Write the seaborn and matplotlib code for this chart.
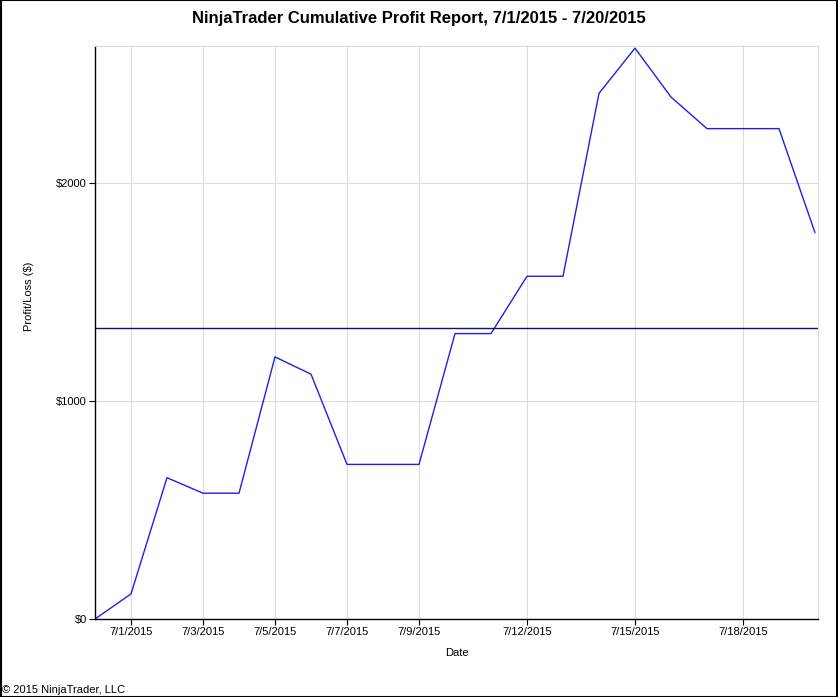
import pandas as pd
import matplotlib.pyplot as plt
import seaborn as sns

# Cumulative profit per day
dates = pd.date_range("2015-06-30", "2015-07-20", freq="D")
profit = [0, 115, 648, 577, 577, 1202, 1123, 709, 709, 709, 1309,
          1309, 1572, 1572, 2411, 2618, 2394, 2249, 2249, 2249, 1772]
tick_dates = ["2015-07-01", "2015-07-03", "2015-07-05", "2015-07-07", "2015-07-09",
              "2015-07-12", "2015-07-15", "2015-07-18"]
tick_labels = ["7/1/2015", "7/3/2015", "7/5/2015", "7/7/2015", "7/9/2015",
               "7/12/2015", "7/15/2015", "7/18/2015"]
y_ticks = [0, 1000, 2000]
y_labels = ["$0", "$1000", "$2000"]

df = pd.DataFrame({"Date": dates, "Profit": profit})

sns.set_style("white")
plt.rcParams["font.family"] = ["Liberation Sans", "DejaVu Sans"]
plt.rcParams["text.color"] = "black"
plt.rcParams["axes.labelcolor"] = "black"
plt.rcParams["xtick.color"] = "black"
plt.rcParams["ytick.color"] = "black"

fig = plt.figure(figsize=(8.38, 6.97), dpi=100)
ax = fig.add_axes([95 / 838, 1 - 619 / 697, (818 - 95) / 838, (619 - 46) / 697])

sns.lineplot(data=df, x="Date", y="Profit", ax=ax, color="#1f1fe6", linewidth=1)
ax.axhline(df["Profit"].mean(), color="#10106e", linewidth=1)

ax.set_xlim(pd.Timestamp("2015-06-30"), pd.Timestamp("2015-07-20 02:00"))
ax.set_ylim(0, 2628)

ax.set_xticks(pd.to_datetime(tick_dates))
ax.set_xticklabels(tick_labels, fontsize=8)
ax.set_yticks(y_ticks)
ax.set_yticklabels(y_labels, fontsize=8)
ax.tick_params(axis="both", length=4, width=0.8, color="black", pad=2,
               bottom=True, left=True)

ax.grid(True, color="#dcdcdc", linewidth=0.8)
ax.set_axisbelow(True)
for side in ["left", "bottom"]:
    ax.spines[side].set_color("black")
    ax.spines[side].set_linewidth(1)
for side in ["top", "right"]:
    ax.spines[side].set_color("#dcdcdc")
    ax.spines[side].set_linewidth(0.8)

ax.set_xlabel("Date", fontsize=8, labelpad=8)
ax.set_ylabel("Profit/Loss ($)", fontsize=8)
ax.yaxis.set_label_coords(-0.084, 0.564)
fig.text(0.5, 1 - 18 / 697, "NinjaTrader Cumulative Profit Report, 7/1/2015 - 7/20/2015",
         ha="center", va="center", fontsize=12, fontweight="bold")
fig.text(2 / 838, 1 - 690 / 697, "\u00a9 2015 NinjaTrader, LLC", ha="left", va="center", fontsize=8)

fig.patches.append(plt.Rectangle((0.0006, 0.0007), 0.9988, 0.9986, transform=fig.transFigure,
                                 fill=False, edgecolor="black", linewidth=1.5))

fig.savefig("out.png", dpi=100)
